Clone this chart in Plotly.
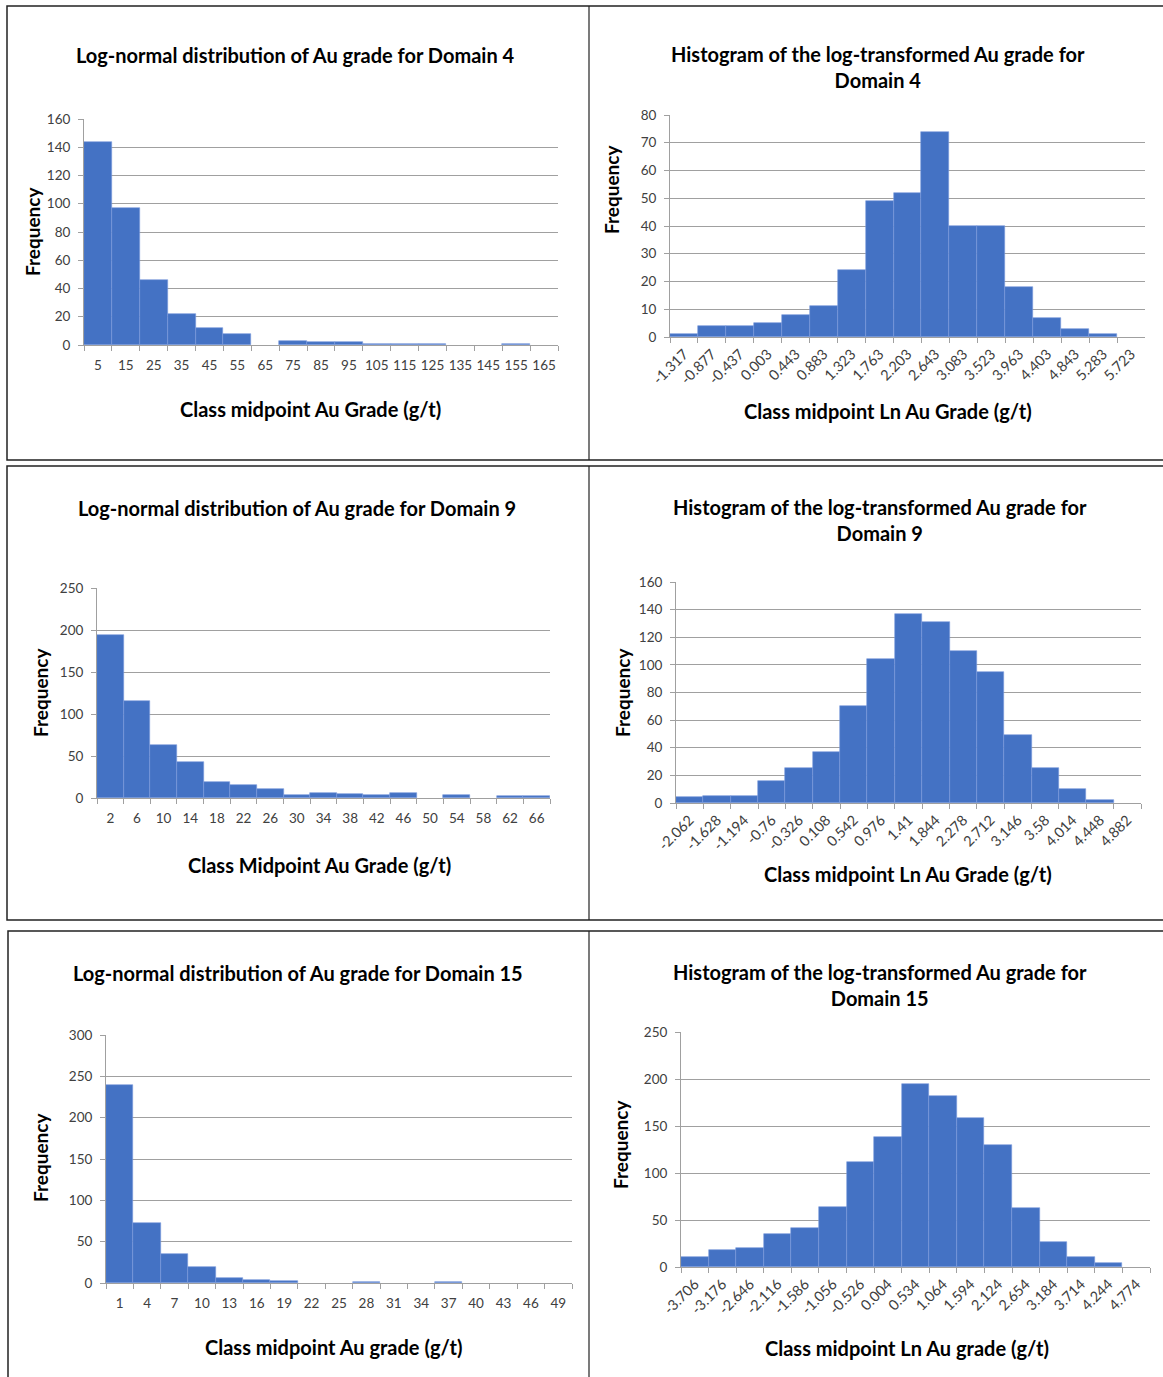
import plotly.graph_objects as go

W, H = 1163, 1377

# ---------------- data ----------------
d4_mid = ["5", "15", "25", "35", "45", "55", "65", "75", "85", "95", "105", "115", "125", "135", "145", "155", "165"]
d4_freq = [144, 97, 46, 22, 12, 8, 0, 3, 2, 2, 1, 1, 1, 0, 0, 1, 0]

d4_ln_mid = ["-1.317", "-0.877", "-0.437", "0.003", "0.443", "0.883", "1.323", "1.763", "2.203", "2.643",
             "3.083", "3.523", "3.963", "4.403", "4.843", "5.283", "5.723"]
d4_ln_freq = [1, 4, 4, 5, 8, 11, 24, 49, 52, 74, 40, 40, 18, 7, 3, 1, 0]

d9_mid = ["2", "6", "10", "14", "18", "22", "26", "30", "34", "38", "42", "46", "50", "54", "58", "62", "66"]
d9_freq = [194, 115, 63, 43, 19, 15, 11, 3, 6, 5, 3, 6, 0, 3, 0, 2, 2]

d9_ln_mid = ["-2.062", "-1.628", "-1.194", "-0.76", "-0.326", "0.108", "0.542", "0.976", "1.41", "1.844",
             "2.278", "2.712", "3.146", "3.58", "4.014", "4.448", "4.882"]
d9_ln_freq = [4, 5, 5, 16, 25, 37, 70, 104, 137, 131, 110, 95, 49, 25, 10, 2, 0]

d15_mid = ["1", "4", "7", "10", "13", "16", "19", "22", "25", "28", "31", "34", "37", "40", "43", "46", "49"]
d15_freq = [240, 73, 35, 19, 6, 4, 3, 0, 0, 1, 0, 0, 1, 0, 0, 0, 0]

d15_ln_mid = ["-3.706", "-3.176", "-2.646", "-2.116", "-1.586", "-1.056", "-0.526", "0.004", "0.534", "1.064",
              "1.594", "2.124", "2.654", "3.184", "3.714", "4.244", "4.774"]
d15_ln_freq = [11, 18, 20, 35, 42, 64, 112, 138, 195, 182, 158, 130, 63, 27, 11, 4, 0]

titles = [
    "Log-normal distribution of Au grade for Domain 4",
    "Histogram of the log-transformed Au grade for<br>Domain 4",
    "Log-normal distribution of Au grade for Domain 9",
    "Histogram of the log-transformed Au grade for<br>Domain 9",
    "Log-normal distribution of Au grade for Domain 15",
    "Histogram of the log-transformed Au grade for<br>Domain 15",
]
xtitles = [
    "Class midpoint Au Grade (g/t)",
    "Class midpoint Ln Au Grade (g/t)",
    "Class Midpoint Au Grade (g/t)",
    "Class midpoint Ln Au Grade (g/t)",
    "Class midpoint Au grade (g/t)",
    "Class midpoint Ln Au grade (g/t)",
]
ymax = [160, 80, 250, 160, 300, 250]
ydtick = [20, 10, 50, 20, 50, 50]

panels = [
    (d4_mid, d4_freq), (d4_ln_mid, d4_ln_freq),
    (d9_mid, d9_freq), (d9_ln_mid, d9_ln_freq),
    (d15_mid, d15_freq), (d15_ln_mid, d15_ln_freq),
]

# ---------------- layout geometry (pixels) ----------------
boxes = [
    (84, 558, 119, 345),
    (670, 1145, 115, 337),
    (97, 550, 588, 798),
    (676, 1141, 582, 803),
    (106, 572, 1035, 1283),
    (681, 1150, 1032, 1267),
]
title_pos = [(295, 55), (878, 67), (297, 508), (880, 520), (298, 973), (880, 985)]
xtitle_pos = [(310, 409), (888, 411), (319, 865), (908, 874), (333, 1347), (907, 1348)]
ytitle_pos = [(32, 232), (612, 190), (40, 693), (622, 693), (40, 1158), (620, 1145)]
rotated = [False, True, False, True, False, True]

BAR = "#4472C4"
GRID = "#A0A0A0"
TXT = "#404040"
FONT = "Lato, 'Liberation Sans', Arial, sans-serif"


def px(x):
    return x / W


def py(y):
    return 1 - y / H


fig = go.Figure()
annotations = []
layout_axes = {}

for i, ((cats, vals), box) in enumerate(zip(panels, boxes)):
    n = i + 1
    xa = "x" if n == 1 else f"x{n}"
    ya = "y" if n == 1 else f"y{n}"
    fig.add_trace(go.Bar(
        x=cats, y=vals, xaxis=xa, yaxis=ya,
        marker=dict(color=BAR, line=dict(color="#7A9ADB",
                                         width=[0.6 if v > 0 else 0 for v in vals])),
        showlegend=False, hoverinfo="x+y",
    ))
    x0, x1, y0, y1 = box
    xkey = "xaxis" if n == 1 else f"xaxis{n}"
    ykey = "yaxis" if n == 1 else f"yaxis{n}"
    layout_axes[xkey] = dict(
        domain=[px(x0), px(x1)], anchor=ya, type="category", automargin=False,
        categoryorder="array", categoryarray=cats,
        tickson="boundaries", ticks="outside", ticklen=5, tickcolor=GRID,
        ticklabelstandoff=2 if rotated[i] else 8,
        showline=True, linecolor=GRID, linewidth=1, showgrid=False,
        tickangle=-45 if rotated[i] else 0,
        tickfont=dict(family=FONT, size=14.5 if rotated[i] else 13.5, color=TXT),
        fixedrange=True,
    )
    layout_axes[ykey] = dict(
        domain=[py(y1), py(y0)], anchor=xa, range=[0, ymax[i]], dtick=ydtick[i],
        automargin=False,
        showgrid=True, gridcolor=GRID, gridwidth=1,
        showline=True, linecolor=GRID, linewidth=1,
        ticks="outside", ticklen=5, tickcolor=GRID, ticklabelstandoff=5,
        tickfont=dict(family=FONT, size=13.5, color=TXT),
        zeroline=False, fixedrange=True,
    )
    tx, ty = title_pos[i]
    annotations.append(dict(
        text=f"<b>{titles[i]}</b>", x=px(tx), y=py(ty), xref="paper", yref="paper",
        showarrow=False, xanchor="center", yanchor="middle",
        font=dict(family=FONT, size=20, color="#000000"),
    ))
    ax_, ay_ = xtitle_pos[i]
    annotations.append(dict(
        text=f"<b>{xtitles[i]}</b>", x=px(ax_), y=py(ay_), xref="paper", yref="paper",
        showarrow=False, xanchor="center", yanchor="middle",
        font=dict(family=FONT, size=20, color="#000000"),
    ))
    yx, yy = ytitle_pos[i]
    annotations.append(dict(
        text="<b>Frequency</b>", x=px(yx), y=py(yy), xref="paper", yref="paper",
        showarrow=False, xanchor="center", yanchor="middle", textangle=-90,
        font=dict(family=FONT, size=19, color="#000000"),
    ))

# panel frames (rows extend past the right and bottom edges)
shapes = []
frames = [(7, 1175, 6, 460), (7, 1175, 466, 920), (8, 1175, 931, 1395)]
for (fx0, fx1, fy0, fy1) in frames:
    shapes.append(dict(type="rect", xref="paper", yref="paper",
                       x0=px(fx0), x1=px(fx1), y0=py(fy1), y1=py(fy0),
                       line=dict(color="#222222", width=1.5)))
    shapes.append(dict(type="line", xref="paper", yref="paper",
                       x0=px(589), x1=px(589), y0=py(fy1), y1=py(fy0),
                       line=dict(color="#222222", width=1.2)))

fig.update_layout(
    width=W, height=H, margin=dict(l=0, r=0, t=0, b=0, autoexpand=False),
    paper_bgcolor="white", plot_bgcolor="white",
    bargap=0, annotations=annotations, shapes=shapes,
    **layout_axes,
)

fig.write_html("out.html")
